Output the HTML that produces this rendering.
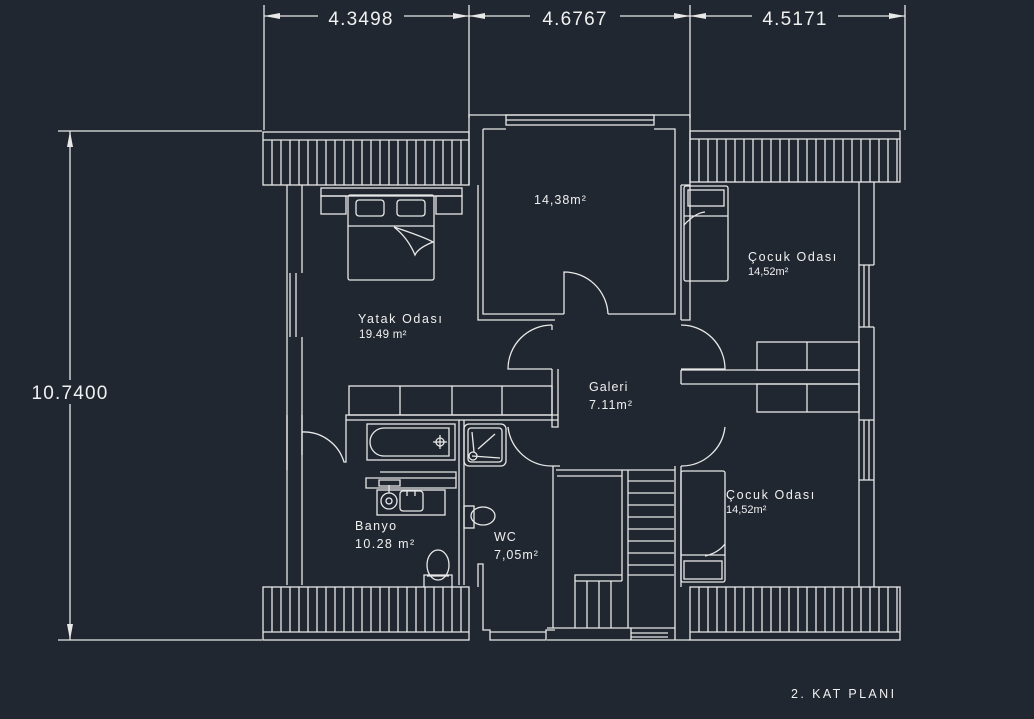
<!DOCTYPE html>
<html><head><meta charset="utf-8"><style>
html,body{margin:0;padding:0;background:#212730;}
svg{display:block}
text{font-family:"Liberation Sans",sans-serif;fill:#f0f0f0}
</style></head><body>
<svg width="1034" height="719" viewBox="0 0 1034 719" xmlns="http://www.w3.org/2000/svg">
<rect width="1034" height="719" fill="#212730"/>
<g stroke="#e8e8e8" stroke-width="1.3" fill="none">
<line x1="264" y1="16" x2="905" y2="16"/>
<line x1="264" y1="5" x2="264" y2="130"/>
<line x1="469" y1="5" x2="469" y2="118"/>
<line x1="690" y1="5" x2="690" y2="118"/>
<line x1="905" y1="5" x2="905" y2="130"/>
<line x1="70" y1="131" x2="70" y2="640"/>
<line x1="58" y1="131" x2="262" y2="131"/>
<line x1="58" y1="640" x2="262" y2="640"/>
</g>
<g fill="#e8e8e8">
<polygon points="264,16 280,13 280,19"/><polygon points="469,16 453,13 453,19"/><polygon points="469,16 485,13 485,19"/>
<polygon points="690,16 674,13 674,19"/><polygon points="690,16 706,13 706,19"/><polygon points="905,16 889,13 889,19"/>
<polygon points="70,131 67,147 73,147"/><polygon points="70,640 67,624 73,624"/>
</g>
<rect x="318" y="6" width="86" height="22" fill="#212730"/>
<rect x="530" y="6" width="90" height="22" fill="#212730"/>
<rect x="752" y="6" width="86" height="22" fill="#212730"/>
<rect x="25" y="380" width="90" height="24" fill="#212730"/>
<g font-size="19" letter-spacing="1.2">
<text x="361" y="25" text-anchor="middle">4.3498</text>
<text x="575" y="25" text-anchor="middle">4.6767</text>
<text x="795" y="25" text-anchor="middle">4.5171</text>
<text x="70" y="399" text-anchor="middle">10.7400</text>
</g>

<g stroke="#e8e8e8" stroke-width="1.3" fill="none">
<rect x="263" y="132" width="206" height="53"/><line x1="263" y1="140" x2="469" y2="140"/>
<rect x="690" y="131" width="210" height="51"/><line x1="690" y1="139" x2="900" y2="139"/>
<rect x="263" y="587" width="206" height="53"/><line x1="263" y1="632" x2="469" y2="632"/>
<rect x="690" y="587" width="210" height="53"/><line x1="690" y1="632" x2="900" y2="632"/>
<path d="M272 140V185M281 140V185M290 140V185M299 140V185M308 140V185M317 140V185M326 140V185M335 140V185M344 140V185M353 140V185M362 140V185M371 140V185M380 140V185M389 140V185M398 140V185M407 140V185M416 140V185M425 140V185M434 140V185M443 140V185M452 140V185M461 140V185"/>
<path d="M699 139V182M708 139V182M717 139V182M726 139V182M735 139V182M744 139V182M753 139V182M762 139V182M771 139V182M780 139V182M789 139V182M798 139V182M807 139V182M816 139V182M825 139V182M834 139V182M843 139V182M852 139V182M861 139V182M870 139V182M879 139V182M888 139V182M897 139V182"/>
<path d="M272 587V632M281 587V632M290 587V632M299 587V632M308 587V632M317 587V632M326 587V632M335 587V632M344 587V632M353 587V632M362 587V632M371 587V632M380 587V632M389 587V632M398 587V632M407 587V632M416 587V632M425 587V632M434 587V632M443 587V632M452 587V632M461 587V632"/>
<path d="M699 587V632M708 587V632M717 587V632M726 587V632M735 587V632M744 587V632M753 587V632M762 587V632M771 587V632M780 587V632M789 587V632M798 587V632M807 587V632M816 587V632M825 587V632M834 587V632M843 587V632M852 587V632M861 587V632M870 587V632M879 587V632M888 587V632M897 587V632"/>

<path d="M469 185V115H690V185"/>
<rect x="506" y="115" width="148" height="10"/><line x1="506" y1="120" x2="654" y2="120"/>
<path d="M478 185V320H555"/>
<path d="M483 129H506M654 129H675V314H608M564 314H483V129"/>
<path d="M564 314V272A44 44 0 0 1 608 314"/>
<path d="M681 320H690V185"/>

<path d="M287 185V585M302 185V273M302 337V585"/>
<path d="M290 273V337M296 273V337"/>
<path d="M287 415V470M302 415V455M302 432 A42 42 0 0 1 344 462H346V420"/>

<rect x="321" y="188" width="141" height="8"/>
<rect x="321" y="196" width="25" height="18"/><rect x="436" y="196" width="26" height="18"/>
<rect x="348" y="195" width="86" height="85" rx="2"/>
<line x1="348" y1="226" x2="434" y2="226"/>
<rect x="356" y="200" width="28" height="16" rx="3"/><rect x="397" y="200" width="28" height="16" rx="3"/>
<path d="M394 227Q424 237 433 242Q418 248 415 255Q408 238 394 227"/>

<rect x="349" y="386" width="203" height="29"/>
<path d="M400 386V415M452 386V415M502 386V415"/>
<path d="M346 415H558V420H346ZM552 369V427H558V369"/>
<path d="M552 325A44 44 0 0 0 508 369H552"/>
<path d="M552 325V330"/>
<path d="M681 325A44 44 0 0 1 725 369H681"/>
<path d="M508 427A44 44 0 0 0 552 466H560"/>
<path d="M725 427A44 44 0 0 1 681 466"/>

<rect x="367" y="424" width="88" height="36"/>
<path d="M384 428H449V456H384A14 14 0 0 1 384 428Z"/>
<circle cx="440" cy="442" r="4"/><path d="M433 442H447M440 435V449"/>
<path d="M459 420V585M464 420V585"/>
<rect x="464" y="424" width="42" height="42" rx="5"/><rect x="468" y="428" width="34" height="34" rx="3"/>
<path d="M472 432L474 452M478 449L495 434M472 456L500 458"/>
<circle cx="473" cy="456" r="4"/>
<path d="M380 472H456V478H380M366 478H456V488H366ZM379 480V486H400V480Z"/>
<rect x="377" y="490" width="68" height="25"/>
<circle cx="389" cy="501" r="8"/><circle cx="389" cy="501" r="3"/>
<rect x="400" y="491" width="23" height="20" rx="3"/>
<path d="M389 485V493M407 490V496M415 490V496"/>
<rect x="464" y="506" width="10" height="22"/><ellipse cx="483" cy="516" rx="12" ry="9"/>
<ellipse cx="438" cy="565" rx="11" ry="15"/>
<path d="M424 587V575H452V587M427 576H449"/>
<path d="M478 587V564H483V630H490V640H546V630H555"/>
<path d="M490 632H546"/>
<path d="M553 466V628"/>
<path d="M556 470H675M557 476H622V575H575V628M575 581H622M622 470V581"/>
<path d="M587 581V628M599 581V628M611 581V628"/>
<path d="M628 470V628M675 466V640"/>
<path d="M628 481H674M628 493H674M628 505H674M628 517H674M628 529H674M628 541H674M628 553H674M628 565H674M628 575H674"/>
<path d="M547 628H675M547 640H690M631 628V640M631 633H668M631 637H668"/>
<path d="M681 185H690M681 185V320M681 466V587"/>
<path d="M859 182V587M874 182V265M874 327V587"/>
<path d="M864 265V327M869 265V327M859 265H874M859 327H874"/>
<path d="M864 420V480M869 420V480M859 420H874M859 480H874"/>
<path d="M681 370H859M681 384H859M681 370V384"/>
<rect x="757" y="342" width="102" height="28"/><line x1="807" y1="342" x2="807" y2="370"/>
<rect x="757" y="384" width="102" height="28"/><line x1="807" y1="384" x2="807" y2="412"/>
<rect x="684" y="186" width="44" height="95" rx="2"/>
<rect x="688" y="190" width="36" height="16"/>
<path d="M684 216H728M684 225Q695 213 705 212"/>
<rect x="681" y="471" width="44" height="111" rx="2"/>
<rect x="684" y="561" width="38" height="18"/>
<path d="M681 555H725M705 556Q718 553 725 544"/>
</g>
<g font-size="12.5" letter-spacing="1">
<text x="534" y="204">14,38m²</text>
<text x="358" y="323" letter-spacing="1.6">Yatak  Odası</text>
<text x="359" y="338" font-size="11.5" letter-spacing="0.3">19.49 m²</text>
<text x="589" y="391">Galeri</text>
<text x="589" y="409">7.11m²</text>
<text x="748" y="261" letter-spacing="1.6">Çocuk  Odası</text>
<text x="748" y="275" font-size="11" letter-spacing="0">14,52m²</text>
<text x="726" y="499" letter-spacing="1.6">Çocuk  Odası</text>
<text x="726" y="513" font-size="11" letter-spacing="0">14,52m²</text>
<text x="355" y="530" letter-spacing="1.4">Banyo</text>
<text x="355" y="548" letter-spacing="1.4">10.28  m²</text>
<text x="494" y="541">WC</text>
<text x="494" y="559">7,05m²</text>
<text x="791" y="698" font-size="12.5" letter-spacing="2.4">2.  KAT  PLANI</text>
</g>
</svg>
</body></html>
